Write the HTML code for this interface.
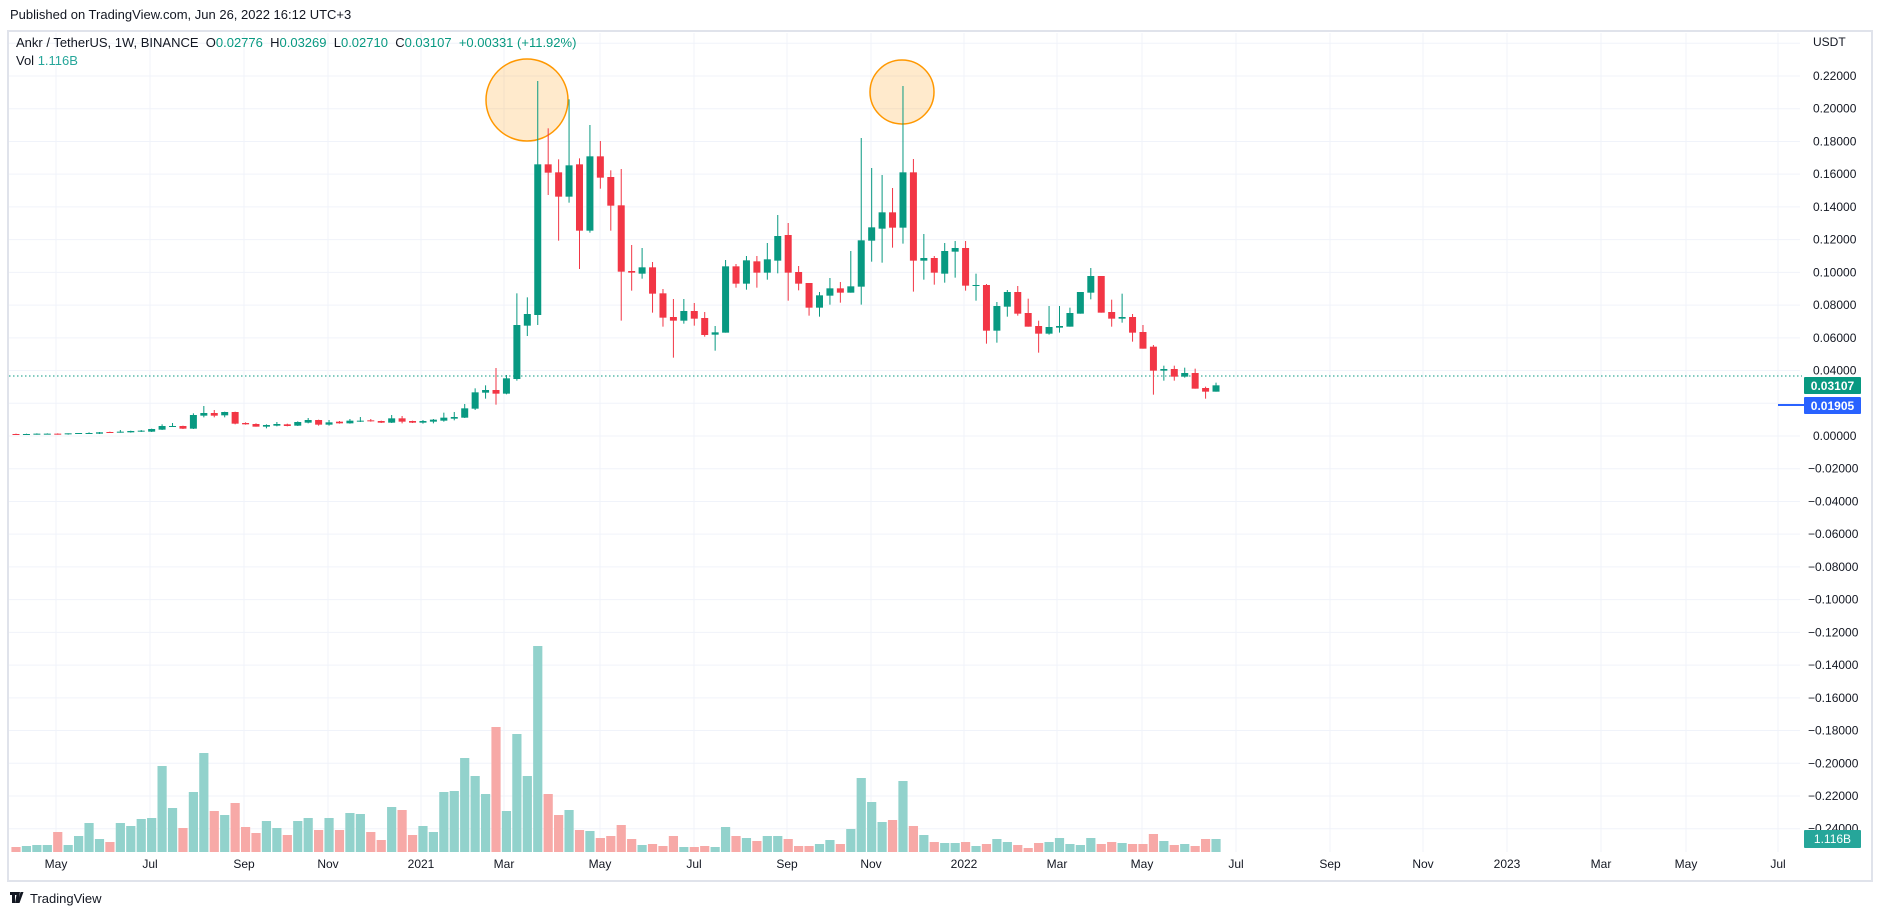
<!DOCTYPE html><html><head><meta charset="utf-8"><style>
body{margin:0;background:#fff;width:1882px;height:916px;overflow:hidden;font-family:"Liberation Sans",sans-serif}
svg text{font-family:"Liberation Sans",sans-serif}
</style></head><body>
<svg id="s" width="1882" height="916" xmlns="http://www.w3.org/2000/svg"></svg>
<script>
const S=document.getElementById('s');let h='';
const Y=z=>60+z/3;
h+='<rect x="0" y="0" width="1882" height="916" fill="#fff"/>';
h+='<text x="10" y="19" font-size="13" fill="#131722">Published on TradingView.com, Jun 26, 2022 16:12 UTC+3</text>';
h+='<rect x="8" y="31" width="1864" height="850" fill="none" stroke="#e0e3eb" stroke-width="2"/>';
for(let k=-1;k<=23;k++){const y=76+k*32.727;h+=`<line x1="9" x2="1800" y1="${y}" y2="${y}" stroke="#f0f3fa" stroke-width="1"/>`;}
const mon=[['May',56],['Jul',150],['Sep',244],['Nov',328],['2021',421],['Mar',504],['May',600],['Jul',694],['Sep',787],['Nov',871],['2022',964],['Mar',1057],['May',1142],['Jul',1236],['Sep',1330],['Nov',1423],['2023',1507],['Mar',1601],['May',1686],['Jul',1778]];
mon.forEach(m=>{h+=`<line x1="${m[1]}" x2="${m[1]}" y1="33" y2="852" stroke="#f0f3fa"/>`;h+=`<text x="${m[1]}" y="868" font-size="12" fill="#131722" text-anchor="middle">${m[0]}</text>`;});
h+='<text x="1813" y="46" font-size="12" fill="#131722">USDT</text>';
for(let k=0;k<=23;k++){const p=0.22-k*0.02;const y=76+k*32.727;let t=p.toFixed(5);if(Math.abs(p)<1e-9)t='0.00000';if(p<-1e-9)t='\u22120'+t.slice(2);h+=`<text x="${p<-1e-9?1808:1813}" y="${y+4}" font-size="12" fill="#131722">${t}</text>`;}
h+='<circle cx="527" cy="100" r="41" fill="#ff9800" fill-opacity="0.2" stroke="#ff9800" stroke-width="1.5"/>';
h+='<circle cx="902" cy="92" r="32" fill="#ff9800" fill-opacity="0.2" stroke="#ff9800" stroke-width="1.5"/>';
const C=[[1122,1121,1124,1124],[1123,1121,1124,1122],[1123,1120,1124,1121],[1122,1120,1123,1121],[1121,1120,1124,1123],[1123,1120,1124,1120],[1121,1119,1122,1119],[1121,1117,1122,1119],[1121,1116,1122,1117],[1116,1115,1118,1117],
[1117,1110,1118,1115],[1117,1112,1118,1113],[1115,1110,1116,1112],[1115,1106,1116,1107],[1109,1093,1110,1098],[1100,1089,1101,1098],[1098,1097,1107,1106],[1106,1060,1107,1065],[1067,1038,1072,1059],[1059,1050,1072,1067],
[1066,1055,1072,1056],[1056,1055,1093,1091],[1089,1087,1094,1093],[1092,1090,1100,1100],[1100,1093,1105,1095],[1097,1086,1099,1092],[1093,1091,1099,1098],[1097,1084,1098,1086],[1088,1074,1090,1080],[1080,1079,1097,1094],
[1094,1080,1097,1087],[1085,1083,1091,1090],[1090,1077,1091,1082],[1084,1071,1086,1082],[1081,1077,1085,1084],[1083,1082,1089,1088],[1088,1065,1089,1075],[1075,1068,1090,1085],[1083,1082,1089,1088],[1088,1080,1091,1083],
[1085,1077,1090,1079],[1082,1058,1085,1073],[1076,1056,1081,1071],[1073,1032,1074,1045],[1046,985,1050,997],[998,976,1016,990],[990,924,1034,1001],[1001,945,1003,955],[957,700,962,795],[797,712,828,762],
[765,63,795,313],[313,205,405,338],[337,298,542,410],[410,118,428,316],[313,295,627,512],[512,195,518,289],[289,243,386,353],[351,331,512,437],[436,327,782,635],[633,555,692,638],
[641,564,656,622],[622,606,758,701],[700,687,800,773],[771,717,893,782],[782,717,791,753],[753,729,797,776],[774,756,830,825],[824,798,872,817],[818,600,818,619],[619,612,683,671],
[671,588,689,601],[604,588,683,638],[638,549,659,598],[602,465,640,528],[525,489,722,638],[636,618,691,671],[669,669,767,743],[743,696,770,706],[707,654,734,685],[685,666,728,698],
[698,573,698,679],[680,234,734,541],[542,324,605,502],[506,345,608,457],[457,384,563,503],[503,78,551,337],[337,297,695,602],[602,522,659,594],[594,588,674,638],[641,549,668,573],
[575,543,653,564],[564,543,692,677],[677,641,722,675],[675,672,851,812],[812,726,848,738],[740,690,770,696],[696,678,767,761],[759,716,800,800],[798,782,878,821],[821,738,824,801],
[803,738,818,798],[800,743,800,759],[761,696,761,696],[698,624,718,648],[648,648,758,758],[756,719,800,776],[776,701,788,771],[771,762,845,818],[816,795,866,866],[860,855,1004,932],
[932,917,962,927],[927,917,962,950],[950,923,953,939],[939,926,986,986],[984,980,1016,995],[995,968,995,976]];
const V=[5,6,7,7,20,7,16,29,13,10,29,26,33,34,86,44,24,60,99,41,37,49,25,19,31,24,17,31,34,22,34,22,39,38,20,12,45,42,17,26,20,60,61,94,76,58,125,41,118,76,206,58,37,42,22,21,14,16,27,13,7,8,6,16,5,5,6,5,25,16,14,11,16,16,13,6,6,8,12,8,23,74,50,30,32,71,26,17,10,9,9,10,6,8,13,10,7,4,9,10,14,8,7,14,8,10,9,8,8,18,11,7,8,6,13,13];
const X=i=>16+i*10.435;
V.forEach((v,i)=>{const c=C[i];const up=c[3]<=c[0];h+=`<rect x="${X(i)-4.6}" y="${852-v}" width="9.2" height="${v}" fill="${up?'#92d2cc':'#f7a9a7'}"/>`;});
h+='<line x1="9" x2="1802" y1="376" y2="376" stroke="#089981" stroke-dasharray="1.5,2.5" stroke-width="1"/>';
h+='<line x1="1778" x2="1804" y1="405" y2="405" stroke="#2962ff" stroke-width="2"/>';
C.forEach((c,i)=>{const up=c[3]<=c[0];const col=up?'#089981':'#f23645';const x=X(i);
h+=`<line x1="${x}" x2="${x}" y1="${Y(c[1])}" y2="${Y(c[2])}" stroke="${col}" stroke-width="1"/>`;
const t=Y(Math.min(c[0],c[3])),b=Y(Math.max(c[0],c[3]));h+=`<rect x="${x-3.5}" y="${t}" width="7" height="${Math.max(1,b-t)}" fill="${col}"/>`;});
h+='<rect x="1804" y="377" width="57" height="17" fill="#089981" rx="1"/><text x="1832.5" y="390" font-size="12" font-weight="bold" fill="#fff" text-anchor="middle">0.03107</text>';
h+='<rect x="1804" y="397" width="57" height="17" fill="#2962ff" rx="1"/><text x="1832.5" y="410" font-size="12" font-weight="bold" fill="#fff" text-anchor="middle">0.01905</text>';
h+='<rect x="1804" y="830" width="57" height="18" fill="#26a69a" rx="1"/><text x="1832.5" y="843" font-size="12" fill="#fff" text-anchor="middle">1.116B</text>';
h+='<text x="16" y="47" font-size="13" fill="#131722" xml:space="preserve">Ankr / TetherUS, 1W, BINANCE  O<tspan fill="#089981">0.02776</tspan>  H<tspan fill="#089981">0.03269</tspan>  L<tspan fill="#089981">0.02710</tspan>  C<tspan fill="#089981">0.03107</tspan>  <tspan fill="#089981">+0.00331 (+11.92%)</tspan></text>';
h+='<text x="16" y="65" font-size="13" fill="#131722">Vol  <tspan fill="#26a69a">1.116B</tspan></text>';
h+='<path d="M10 892h7v3h-2v8h-3v-8h-2z M17 892h3l-2 11h-3z M20.5 892h3l-4 11h-2z" fill="#131722"/>';
h+='<text x="30" y="903" font-size="13" fill="#131722">TradingView</text>';
S.innerHTML=h;
</script></body></html>
